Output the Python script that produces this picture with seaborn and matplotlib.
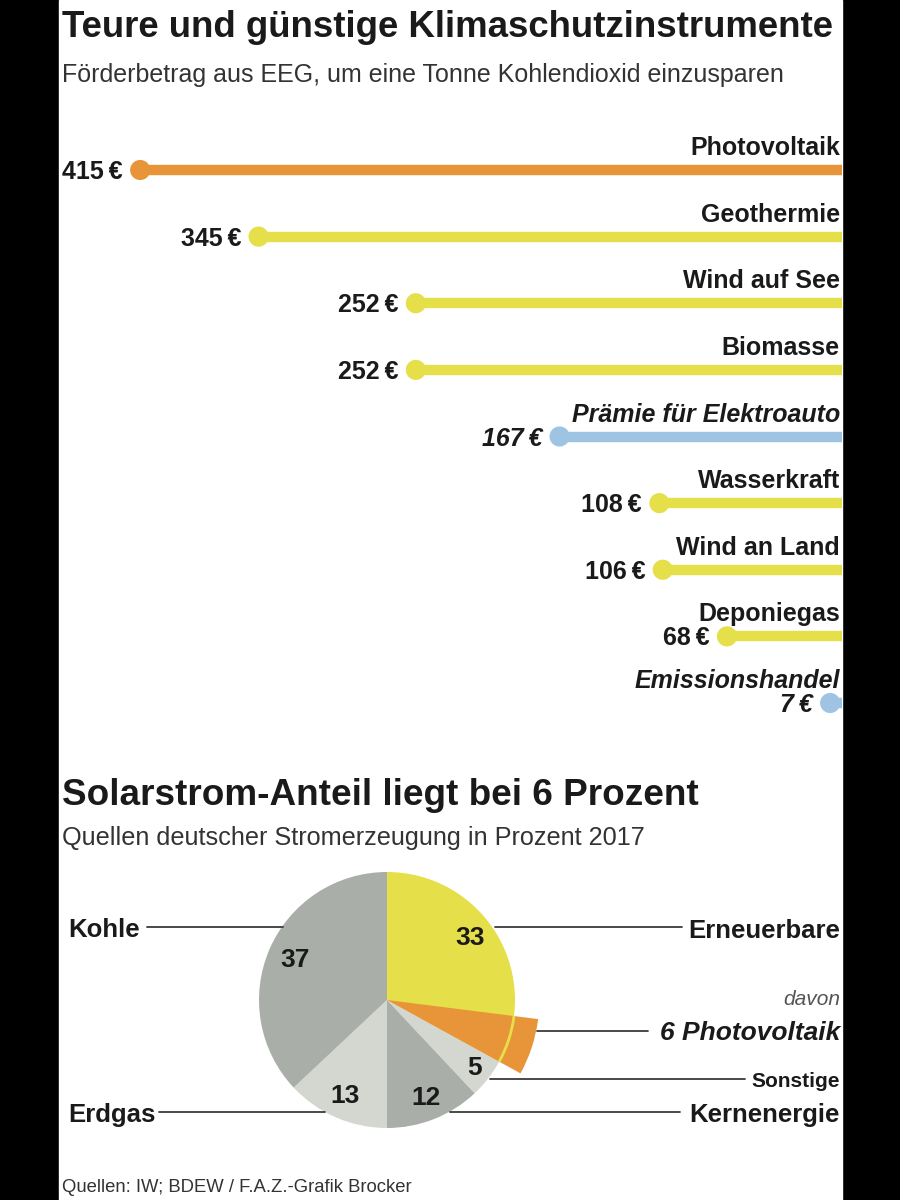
import numpy as np
import pandas as pd
import matplotlib
matplotlib.use("Agg")
import matplotlib.pyplot as plt
from matplotlib.patches import Wedge, Arc, Rectangle
import seaborn as sns

# ---------------- data ----------------
instruments = ["Photovoltaik", "Geothermie", "Wind auf See", "Biomasse",
               "Prämie für Elektroauto", "Wasserkraft", "Wind an Land",
               "Deponiegas", "Emissionshandel"]
cost_eur = [415, 345, 252, 252, 167, 108, 106, 68, 7]
group = ["pv", "eeg", "eeg", "eeg", "other", "eeg", "eeg", "eeg", "other"]

sources = ["Erneuerbare", "Sonstige", "Kernenergie", "Erdgas", "Kohle"]
share = [33, 5, 12, 13, 37]
pv_share = 6

title1 = "Teure und günstige Klimaschutzinstrumente"
subtitle1 = "Förderbetrag aus EEG, um eine Tonne Kohlendioxid einzusparen"
title2 = "Solarstrom-Anteil liegt bei 6 Prozent"
subtitle2 = "Quellen deutscher Stromerzeugung in Prozent 2017"
footer = "Quellen: IW; BDEW / F.A.Z.-Grafik Brocker"

# ---------------- style ----------------
sns.set_theme(style="white")
plt.rcParams["font.family"] = ["Liberation Sans", "DejaVu Sans"]

ORANGE = "#E8953A"
YELLOW = "#E5DF4A"
BLUE = "#9EC3E3"
GRAY = "#A9AFA8"
LGRAY = "#D4D7D0"
INK = "#1a1a1a"
palette = {"pv": ORANGE, "eeg": YELLOW, "other": BLUE}

W, H = 900, 1200
fig = plt.figure(figsize=(9, 12), dpi=100, facecolor="black")

def fx(px):
    return px / W

def fy(py):
    return 1 - py / H

# white panel + overlay in pixel coordinates
ov = fig.add_axes([0, 0, 1, 1], zorder=0)
ov.set_xlim(0, W)
ov.set_ylim(H, 0)
ov.axis("off")
ov.add_patch(Rectangle((59, 0), 783, H, color="white", zorder=0))

ov.text(62, 37, title1, fontsize=26.4, fontweight="bold", color=INK, va="baseline")
ov.text(62, 82, subtitle1, fontsize=18, color="#333333", va="baseline")
ov.text(62, 805, title2, fontsize=26.6, fontweight="bold", color=INK, va="baseline")
ov.text(62, 845, subtitle2, fontsize=18.2, color="#333333", va="baseline")
ov.text(62, 1192, footer, fontsize=13.3, color="#333333", va="baseline")

# ---------------- lollipop ----------------
df = pd.DataFrame({"instrument": instruments, "cost": cost_eur, "group": group})
df["row"] = np.arange(len(df))

row_h = (703 - 170) / (len(df) - 1)
top_px = 170 - row_h / 2
bot_px = 703 + row_h / 2
ax = fig.add_axes([fx(59), fy(bot_px), fx(783), (bot_px - top_px) / H], zorder=1)
ax.set_facecolor("none")

ax.hlines(df["row"], 0, df["cost"], colors=[palette[g] for g in df["group"]],
          linewidth=7.5, capstyle="butt", zorder=1)
sns.scatterplot(data=df, x="cost", y="row", hue="group", palette=palette,
                s=210, linewidth=0, legend=False, ax=ax, zorder=2)
ax.set_xlim(463, 0)
ax.set_ylim(len(df) - 0.5, -0.5)
ax.axis("off")

for _, r in df.iterrows():
    style = "italic" if r["group"] == "other" else "normal"
    ax.annotate(r["instrument"], xy=(0, r["row"]), xytext=(-1.5, 10.8),
                textcoords="offset points", ha="right", va="baseline",
                fontsize=18, fontweight="bold", fontstyle=style, color=INK)
    ax.annotate(f"{r['cost']}\u2009€", xy=(r["cost"], r["row"]), xytext=(-12.5, -6.5),
                textcoords="offset points", ha="right", va="baseline",
                fontsize=18, fontweight="bold", fontstyle=style, color=INK)

# ---------------- pie ----------------
R_PX = 128
L = 1.25
S = 2 * L * R_PX
cx, cy = 387, 1000
pax = fig.add_axes([fx(cx - S / 2), fy(cy + S / 2), S / W, S / H], zorder=2)
pax.set_facecolor("none")
pie_colors = [YELLOW, LGRAY, GRAY, LGRAY, GRAY]
pax.pie(share, colors=pie_colors, startangle=90, counterclock=False, radius=1,
        wedgeprops=dict(linewidth=0))
pax.set_xlim(-L, L)
pax.set_ylim(-L, L)
pax.axis("off")

total = sum(share)
cum_end_ren = share[0] / total
cum_start_pv = (share[0] - pv_share) / total
t1 = 90 - 360 * cum_end_ren
t2 = 90 - 360 * cum_start_pv
pax.add_patch(Wedge((0, 0), 1.19, t1, t2, color=ORANGE, linewidth=0, zorder=3))
pax.add_patch(Arc((0, 0), 2, 2, theta1=t1, theta2=t2, color=YELLOW, lw=2, zorder=4))

# value labels inside wedges
label_r = [0.81, 0.87, 0.82, 0.82, 0.78]
label_shift = [-6, 0, 0, 0, 0]  # degrees
cum = 0
for val, rr, sh in zip(share, label_r, label_shift):
    mid = cum + val / 2
    ang = np.deg2rad(90 - 360 * mid / total - sh)
    pax.text(rr * np.cos(ang), rr * np.sin(ang), f"{val}", ha="center", va="center",
             fontsize=19, fontweight="bold", color=INK, zorder=5)
    cum += val

# leader lines and labels (pixel overlay on top)
ov2 = fig.add_axes([0, 0, 1, 1], zorder=3)
ov2.set_xlim(0, W)
ov2.set_ylim(H, 0)
ov2.axis("off")
ov2.set_facecolor("none")
lc = "#3a3a3a"
lw = 1.3
ov2.plot([147, 283], [927, 927], color=lc, lw=lw)
ov2.plot([159, 325], [1112, 1112], color=lc, lw=lw)
ov2.plot([495, 682], [927, 927], color=lc, lw=lw)
ov2.plot([537, 648], [1031, 1031], color=lc, lw=lw)
ov2.plot([490, 745], [1079, 1079], color=lc, lw=lw)
ov2.plot([450, 680], [1112, 1112], color=lc, lw=lw)

ov2.text(68, 937, "Kohle", fontsize=18.5, fontweight="bold", color=INK, va="baseline")
ov2.text(68, 1122, "Erdgas", fontsize=18.5, fontweight="bold", color=INK, va="baseline")
ov2.text(840, 938, sources[0], fontsize=18.5, fontweight="bold", color=INK,
         va="baseline", ha="right")
ov2.text(840, 1005, "davon", fontsize=15, fontstyle="italic", color="#555555",
         va="baseline", ha="right")
ov2.text(840, 1040, f"{pv_share} Photovoltaik", fontsize=19, fontweight="bold",
         fontstyle="italic", color=INK, va="baseline", ha="right")
ov2.text(840, 1087, sources[1], fontsize=15, fontweight="bold", color=INK,
         va="baseline", ha="right")
ov2.text(840, 1122, sources[2], fontsize=18.5, fontweight="bold", color=INK,
         va="baseline", ha="right")

fig.savefig("out.png", dpi=100, facecolor="black")
